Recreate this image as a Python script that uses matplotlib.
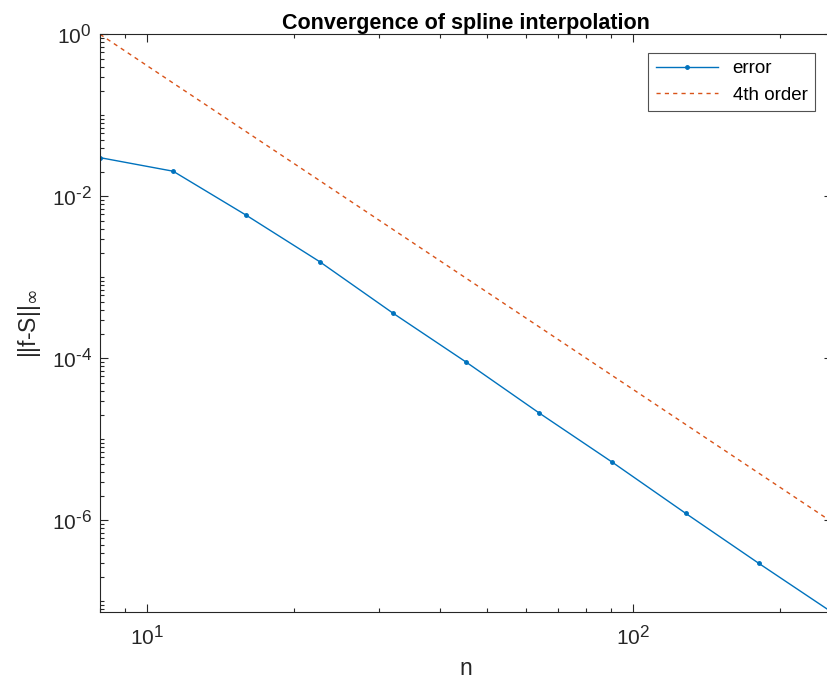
import matplotlib
matplotlib.use('Agg')
import matplotlib.pyplot as plt
import matplotlib._mathtext as mt
from matplotlib.ticker import FixedLocator, LogLocator, NullFormatter, FuncFormatter
import numpy as np

# bigger exponents, like the matlab labels
mt.SHRINK_FACTOR = 0.82

plt.rcParams['font.family'] = ['Liberation Sans', 'DejaVu Sans']
plt.rcParams['mathtext.fontset'] = 'custom'
plt.rcParams['mathtext.rm'] = 'Liberation Sans'
plt.rcParams['mathtext.it'] = 'Liberation Sans:italic'
plt.rcParams['mathtext.sf'] = 'DejaVu Sans'
plt.rcParams['axes.unicode_minus'] = False

# number of points (8 * sqrt(2)^k)
n = [8, 11.31, 16, 22.63, 32, 45.25, 64, 90.51, 128, 181.02, 256]
# max error
err = [3.0e-2, 2.04e-2, 5.82e-3, 1.56e-3, 3.62e-4, 9.0e-5, 2.11e-5,
       5.2e-6, 1.22e-6, 2.94e-7, 7.31e-8]
# 4th order reference line
ref = [1.0, 0.25, 0.0625, 0.015625, 3.90625e-3, 9.765625e-4, 2.44140625e-4,
       6.103515625e-5, 1.52587890625e-5, 3.814697265625e-6, 9.5367431640625e-7]

blue = '#0072BD'
orange = '#D95319'
axcol = '#262626'


def pow10(v, pos):
    e = int(round(np.log10(v)))
    s = str(e).replace('-', '\u2010')
    return r'$\mathdefault{10^{%s}}$' % s


fig = plt.figure(figsize=(8.28, 6.88), dpi=100)
ax = fig.add_axes([100 / 828, 1 - 612.3 / 688, 732 / 828, (612.3 - 34.3) / 688])

ax.loglog(n, err, '.-', color=blue, lw=1.0, ms=5, label='error')
ax.loglog(n, ref, '--', color=orange, lw=1.0, dashes=(3, 3), label='4th order')

ax.set_xlim(n[0], n[-1])
ax.set_ylim(err[-1], 1)

ax.yaxis.set_major_locator(FixedLocator([1e-6, 1e-4, 1e-2, 1e0]))
ax.yaxis.set_minor_locator(LogLocator(base=10, subs=range(1, 10), numticks=30))
ax.xaxis.set_major_formatter(FuncFormatter(pow10))
ax.yaxis.set_major_formatter(FuncFormatter(pow10))
ax.xaxis.set_minor_formatter(NullFormatter())
ax.yaxis.set_minor_formatter(NullFormatter())

ax.tick_params(which='both', direction='in', top=True, right=True,
               colors=axcol, labelcolor=axcol, labelsize=15, width=0.8)
ax.tick_params(which='major', length=6)
ax.tick_params(axis='x', which='major', pad=9)
ax.tick_params(axis='y', which='major', pad=6)
ax.tick_params(which='minor', length=3)
for s in ax.spines.values():
    s.set_color(axcol)
    s.set_linewidth(0.8)

ax.set_title('Convergence of spline interpolation', fontsize=15.5,
             fontweight='bold', pad=4)
ax.set_xlabel('n', fontsize=16.5, color=axcol, labelpad=6)
ax.set_ylabel(r'||f-S||$_{\mathsf{\infty}}$', fontsize=16.5, color=axcol, labelpad=6)

leg = ax.legend(loc='upper right', fontsize=13.5, frameon=True, fancybox=False,
                edgecolor=axcol, borderpad=0.4, handlelength=3.3,
                borderaxespad=0, bbox_to_anchor=(715 / 732, 0.968))
leg.get_frame().set_linewidth(0.8)

fig.savefig('out.png', dpi=100)
